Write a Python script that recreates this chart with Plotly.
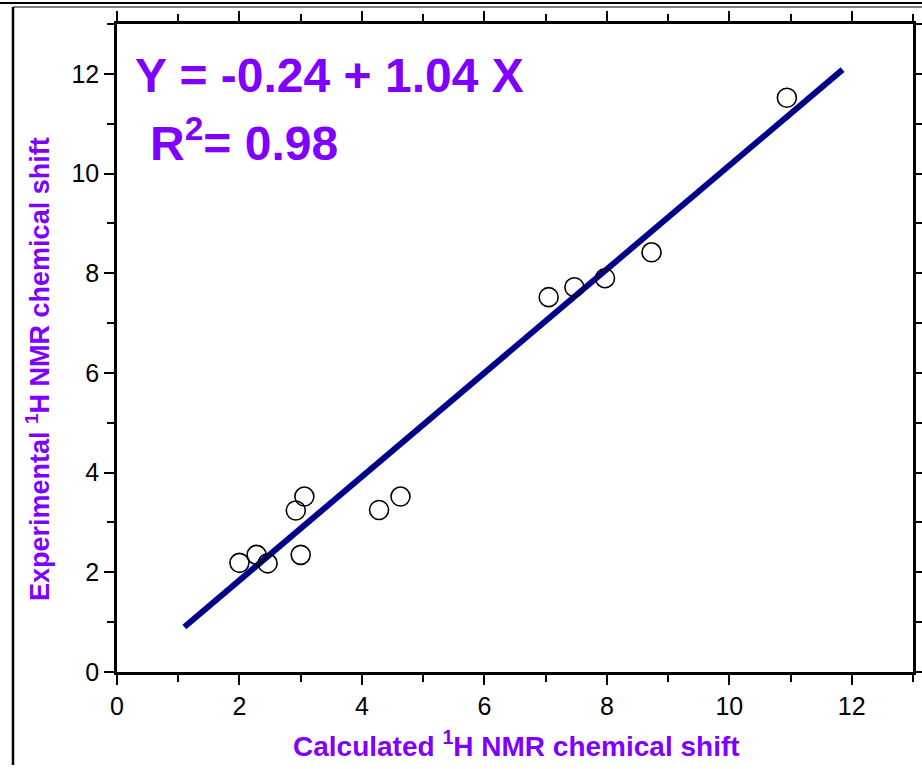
import plotly.graph_objects as go

# Data
calc_shift = [2.00, 2.28, 2.46, 2.92, 3.06, 3.00, 4.28, 4.63, 7.05, 7.47, 7.97, 8.73, 10.94]
exp_shift = [2.19, 2.35, 2.18, 3.24, 3.52, 2.35, 3.25, 3.52, 7.52, 7.72, 7.90, 8.42, 11.52]
intercept = -0.24
slope = 1.04
fit_x = [1.1, 11.85]
fit_y = [intercept + slope * v for v in fit_x]

equation_text = "Y = -0.24 + 1.04 X"
r2_text = "R<sup>2</sup>= 0.98"
x_title = "Calculated <sup>1</sup>H NMR chemical shift"
y_title = "Experimental <sup>1</sup>H NMR chemical shift"
tick_vals = [0, 2, 4, 6, 8, 10, 12]

PURPLE = "#8000FF"
FONT = "Liberation Sans, Arial, sans-serif"

fig = go.Figure()
fig.add_trace(go.Scatter(x=fit_x, y=fit_y, mode="lines",
                         line=dict(color="#00008B", width=6), showlegend=False))
fig.add_trace(go.Scatter(x=calc_shift, y=exp_shift, mode="markers",
                         marker=dict(symbol="circle-open", size=19, color="black",
                                     line=dict(width=1.6, color="black")),
                         showlegend=False))

W, H = 922, 765
L, R, T = 117, 9, 24
B = H - 672
pw, ph = W - L - R, H - T - B

def px(xp):
    return (xp - L) / pw

def py(yp):
    return (H - B - yp) / ph

axis_common = dict(
    showline=True, linecolor="black", linewidth=2.5, mirror="ticks",
    ticks="outside", ticklen=10, tickwidth=2, tickcolor="black",
    showgrid=False, zeroline=False,
    tickfont=dict(family=FONT, size=25, color="black"),
    minor=dict(ticks="outside", ticklen=7, tickwidth=2, tickcolor="black", dtick=1, showgrid=False),
)

fig.update_layout(
    width=W, height=H,
    margin=dict(l=L, r=R, t=T, b=B, autoexpand=False),
    paper_bgcolor="white", plot_bgcolor="white",
    xaxis=dict(range=[0, 13], tickvals=tick_vals, **axis_common),
    yaxis=dict(range=[0, 13], tickvals=tick_vals, **axis_common),
    annotations=[
        dict(text="<b>" + equation_text + "</b>", xref="paper", yref="paper",
             x=px(133), y=py(75), xanchor="left", yanchor="middle", showarrow=False,
             font=dict(family=FONT, size=48, color=PURPLE)),
        dict(text="<b>" + r2_text + "</b>", xref="paper", yref="paper",
             x=px(148), y=py(140), xanchor="left", yanchor="middle", showarrow=False,
             font=dict(family=FONT, size=48, color=PURPLE)),
        dict(text="<b>" + x_title + "</b>", xref="paper", yref="paper",
             x=px(516), y=py(H - 1), xanchor="center", yanchor="bottom", showarrow=False,
             font=dict(family=FONT, size=28, color=PURPLE)),
        dict(text="<b>" + y_title + "</b>", xref="paper", yref="paper",
             x=px(38), y=py(369), xanchor="center", yanchor="middle", showarrow=False,
             textangle=-90,
             font=dict(family=FONT, size=27, color=PURPLE)),
    ],
    shapes=[
        dict(type="line", xref="paper", yref="paper", x0=px(0), x1=px(922), y0=py(3), y1=py(3),
             line=dict(color="black", width=2)),
        dict(type="line", xref="paper", yref="paper", x0=px(13), x1=px(922), y0=py(7), y1=py(7),
             line=dict(color="#555555", width=1.5)),
        dict(type="line", xref="paper", yref="paper", x0=px(13), x1=px(13), y0=py(7), y1=py(H),
             line=dict(color="black", width=2.5)),
    ],
)

fig.write_html("out.html")
